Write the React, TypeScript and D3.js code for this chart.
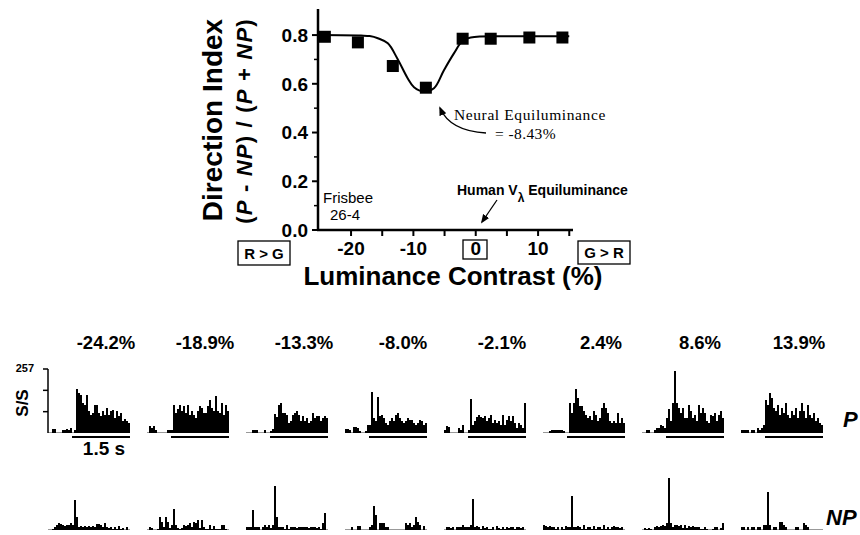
import * as d3 from "d3";

const SANS = "'Liberation Sans', Arial, Helvetica, sans-serif";
const SERIF = "'Liberation Serif', 'Times New Roman', serif";

// ---- top panel: direction index vs luminance contrast
const contrastPct = [-24.2, -18.9, -13.3, -8.0, -2.1, 2.4, 8.6, 13.9];
const contrastLabels = ["-24.2%", "-18.9%", "-13.3%", "-8.0%", "-2.1%", "2.4%", "8.6%", "13.9%"];
const directionIndex = [0.793, 0.77, 0.673, 0.584, 0.785, 0.785, 0.79, 0.79];
// fitted curve
const fitContrast = [-25, -18.4, -17, -15.7, -14.1, -12.6, -10.9, -9.9, -8.3, -6.7, -5.1, -3.5, -2.1, -0.8, 5, 15];
const fitIndex = [0.8, 0.798, 0.796, 0.787, 0.766, 0.705, 0.622, 0.586, 0.568, 0.582, 0.656, 0.725, 0.777, 0.79, 0.795, 0.795];
const yMajor = [0, 0.2, 0.4, 0.6, 0.8];
const yMinor = [0.1, 0.3, 0.5, 0.7];
const xMajor = [-20, -10, 0, 10];
const xMinor = [-15, -5, 5, 15];

// ---- bottom: PSTHs (spikes/s), 12 prestimulus bins + 29 stimulus bins
const preBins = 12;
const totalBins = 41;
const rateMax = 257;
const prefRate = [
  [0,0,16,16,0,0,0,12,12,16,12,20, 0,12,176,160,152,120,112,152,88,72,80,112,112,80,68,88,72,100,72,88,92,60,88,68,80,48,56,48,40],
  [0,28,20,28,12,0,0,0,0,0,12,12, 12,112,80,96,112,88,108,80,112,72,88,72,60,88,108,100,80,80,108,132,100,88,148,88,80,120,72,112,88],
  [0,0,0,12,12,12,0,0,0,12,0,0, 8,16,76,64,112,120,80,80,72,40,48,72,80,88,72,48,68,48,60,40,48,80,60,68,68,48,60,68,60],
  [16,16,12,0,24,24,20,8,0,0,8,32, 32,164,60,48,144,68,72,60,40,32,48,60,48,72,80,60,48,40,48,60,52,52,40,32,40,52,48,32,40],
  [12,28,24,0,0,0,0,20,12,32,0,0, 12,136,32,48,64,72,64,60,68,48,60,72,40,52,40,48,32,72,32,52,68,48,68,40,20,40,32,20,120],
  [0,0,0,8,12,12,12,12,12,12,8,0, 0,120,80,120,176,140,108,108,88,72,60,68,52,88,72,48,60,100,120,100,80,48,40,48,40,80,40,60,40],
  [0,0,12,12,0,0,12,20,20,32,28,20, 60,96,48,120,248,120,100,80,100,60,60,112,88,60,72,48,112,80,100,80,48,40,72,68,80,48,72,88,60],
  [12,12,12,12,0,12,12,0,20,12,20,32, 132,112,160,140,100,88,112,72,100,80,120,72,60,88,72,100,60,88,120,88,60,112,72,60,80,48,60,40,32],
];
const nullRate = [
  [0,0,4,12,20,28,24,20,16,20,20,28,20,120,52,12,16,12,16,12,16,12,16,12,24,24,20,12,28,12,8,12,4,12,4,16,4,8,0,12,0],
  [0,12,8,0,0,4,52,32,12,52,32,8,20,84,20,8,4,8,20,16,20,28,12,32,28,40,8,40,12,4,4,20,4,16,4,4,4,20,20,4,0],
  [12,12,12,80,12,12,12,0,12,20,12,20,8,20,176,52,12,12,12,4,20,4,12,12,12,8,12,12,12,12,12,8,12,12,12,8,12,4,28,68,0],
  [0,0,0,12,0,0,16,16,0,0,0,0,12,20,96,60,0,28,28,28,12,12,0,0,0,0,0,0,0,0,28,20,28,12,20,52,32,20,0,16,0],
  [0,12,12,8,12,0,12,12,12,20,12,12,12,20,124,12,16,12,4,16,8,12,4,4,12,0,16,8,4,12,4,12,8,12,12,4,12,12,8,12,0],
  [20,16,12,16,12,12,4,12,0,12,4,16,12,12,136,12,12,16,12,4,20,4,12,12,4,16,4,12,12,4,20,4,12,4,12,16,12,12,8,12,0],
  [0,8,4,8,4,0,12,16,12,16,20,16,28,208,28,12,20,20,16,20,8,20,8,16,12,16,12,12,12,4,4,12,4,0,0,4,12,12,0,8,28],
  [12,12,0,12,0,12,12,0,12,12,0,20,20,152,20,0,12,12,0,32,32,20,12,0,0,0,0,12,12,0,0,28,20,12,0,0,0,0,0,0,0],
];
const rateTicks = [0, rateMax / 3, (2 * rateMax) / 3, rateMax];

function Psth({ rates, x0, base, stim }: { rates: number[]; x0: number; base: number; stim: boolean }) {
  const bx = d3.scaleLinear().domain([0, totalBins]).range([x0, x0 + 82]);
  const h = d3.scaleLinear().domain([0, rateMax]).range([0, 64]);
  const bw = bx(1) - bx(0);
  return (
    <g shapeRendering="crispEdges">
      <line x1={bx(0)} x2={bx(totalBins)} y1={base - 0.5} y2={base - 0.5} stroke="#999" strokeWidth={1} />
      {rates.map((v, i) =>
        v > 0 ? <rect key={i} x={bx(i)} y={base - Math.round(h(v))} width={bw} height={Math.round(h(v))} fill="#000" /> : null
      )}
      {stim && (
        <line x1={bx(preBins)} x2={bx(totalBins)} y1={base + 4} y2={base + 4} stroke="#000" strokeWidth={2} />
      )}
    </g>
  );
}

export default function App() {
  const x = d3.scaleLinear().domain([-25.3, 15.6]).range([318, 573]);
  const y = d3.scaleLinear().domain([0, 0.907]).range([230, 9]);
  const fit = d3
    .line<number>()
    .x((d) => x(d))
    .y((_, i) => y(fitIndex[i]))
    .curve(d3.curveCatmullRom)(fitContrast);

  const panel = d3.scaleBand().domain(contrastLabels).range([48, 48 + 8 * 99.1]).round(true);
  const pBase = 433;
  const npBase = 530;
  const rateY = d3.scaleLinear().domain([0, rateMax]).range([pBase, pBase - 64]);

  return (
    <svg width={860} height={535} style={{ position: "absolute", left: 0, top: 0, background: "#fff" }} fontFamily={SANS}>
      <defs>
        <marker id="ah" viewBox="0 0 10 10" refX="8" refY="5" markerWidth="7" markerHeight="7" orient="auto">
          <path d="M0,1 L10,5 L0,9 z" fill="#000" />
        </marker>
      </defs>

      {/* axes */}
      <line x1={318} x2={318} y1={9} y2={231} stroke="#000" strokeWidth={2.5} />
      <line x1={317} x2={573} y1={230} y2={230} stroke="#000" strokeWidth={2.5} />
      {yMajor.map((t) => (
        <g key={t}>
          <line x1={312} x2={318} y1={y(t)} y2={y(t)} stroke="#000" strokeWidth={2} />
          <text x={308} y={y(t)} dy="0.36em" textAnchor="end" fontWeight="bold" fontSize={19}>
            {t.toFixed(1)}
          </text>
        </g>
      ))}
      {yMinor.map((t) => (
        <line key={t} x1={314} x2={318} y1={y(t)} y2={y(t)} stroke="#000" strokeWidth={1.5} />
      ))}
      {xMajor.concat(xMinor).map((t) => (
        <line key={t} x1={x(t)} x2={x(t)} y1={230} y2={236} stroke="#000" strokeWidth={2} />
      ))}
      {xMajor.map((t) => (
        <text key={t} x={x(t)} y={255} textAnchor="middle" fontWeight="bold" fontSize={19}>
          {t}
        </text>
      ))}
      <rect x={463} y={240} width={24} height={19} fill="none" stroke="#000" strokeWidth={1.3} />
      <rect x={238} y={241} width={52} height={24} fill="none" stroke="#000" strokeWidth={1.3} />
      <text x={264} y={259} textAnchor="middle" fontWeight="bold" fontSize={15}>R &gt; G</text>
      <rect x={578} y={241} width={52} height={23} fill="none" stroke="#000" strokeWidth={1.3} />
      <text x={604} y={258} textAnchor="middle" fontWeight="bold" fontSize={15}>G &gt; R</text>

      <text transform="translate(222,120) rotate(-90)" textAnchor="middle" fontWeight="bold" fontSize={28}>
        Direction Index
      </text>
      <text
        transform="translate(252,121) rotate(-90)"
        textAnchor="middle"
        fontWeight="bold"
        fontSize={22}
        letterSpacing={1.2}
      >
        (<tspan fontStyle="italic">P</tspan> - <tspan fontStyle="italic">NP</tspan>) / (<tspan fontStyle="italic">P</tspan> + <tspan fontStyle="italic">NP</tspan>)
      </text>
      <text x={453} y={285} textAnchor="middle" fontWeight="bold" fontSize={26}>
        Luminance Contrast (%)
      </text>

      {/* fit and data */}
      <path d={fit ?? ""} fill="none" stroke="#000" strokeWidth={2} />
      {contrastPct.map((c, i) => (
        <rect key={c} x={x(c) - 6} y={y(directionIndex[i]) - 6} width={12} height={12} fill="#000" />
      ))}

      {/* annotations */}
      <text x={323} y={203} fontSize={15}>Frisbee</text>
      <text x={345} y={220} fontSize={15} textAnchor="middle">26-4</text>
      <text x={457} y={195} fontSize={14} fontWeight="bold">
        Human V<tspan fontSize={12} dy={7}>λ</tspan>
        <tspan dy={-7}> Equiluminance</tspan>
      </text>
      <line x1={497} y1={200} x2={482} y2={222} stroke="#000" strokeWidth={1.3} markerEnd="url(#ah)" />
      <text x={454} y={120} fontFamily={SERIF} fontSize={15.5} letterSpacing={0.6}>Neural Equiluminance</text>
      <text x={495} y={139} fontFamily={SERIF} fontSize={15.5} letterSpacing={0.4}>= -8.43%</text>
      <path d="M486,133 Q450,131 440,108" fill="none" stroke="#000" strokeWidth={1.3} markerEnd="url(#ah)" />

      {/* PSTH rows */}
      {contrastLabels.map((lab, i) => {
        const x0 = panel(lab) ?? 0;
        return (
          <g key={lab}>
            <text x={x0 + 58} y={349} textAnchor="middle" fontWeight="bold" fontSize={18.5}>
              {lab}
            </text>
            <Psth rates={prefRate[i]} x0={x0} base={pBase} stim={true} />
            <Psth rates={nullRate[i]} x0={x0} base={npBase} stim={false} />
          </g>
        );
      })}
      <line x1={48} x2={48} y1={rateY(rateMax)} y2={pBase} stroke="#000" strokeWidth={1.5} />
      {rateTicks.slice(1).map((t) => (
        <line key={t} x1={43} x2={48} y1={rateY(t)} y2={rateY(t)} stroke="#000" strokeWidth={1.5} />
      ))}
      <text x={34} y={372} textAnchor="end" fontWeight="bold" fontSize={11}>257</text>
      <text transform="translate(28,403) rotate(-90)" textAnchor="middle" fontWeight="bold" fontSize={17}>S/S</text>
      <text x={104} y={455} textAnchor="middle" fontWeight="bold" fontSize={19}>1.5 s</text>
      <text x={843} y={427} fontWeight="bold" fontStyle="italic" fontSize={22}>P</text>
      <text x={826} y={525} fontWeight="bold" fontStyle="italic" fontSize={22}>NP</text>
    </svg>
  );
}
